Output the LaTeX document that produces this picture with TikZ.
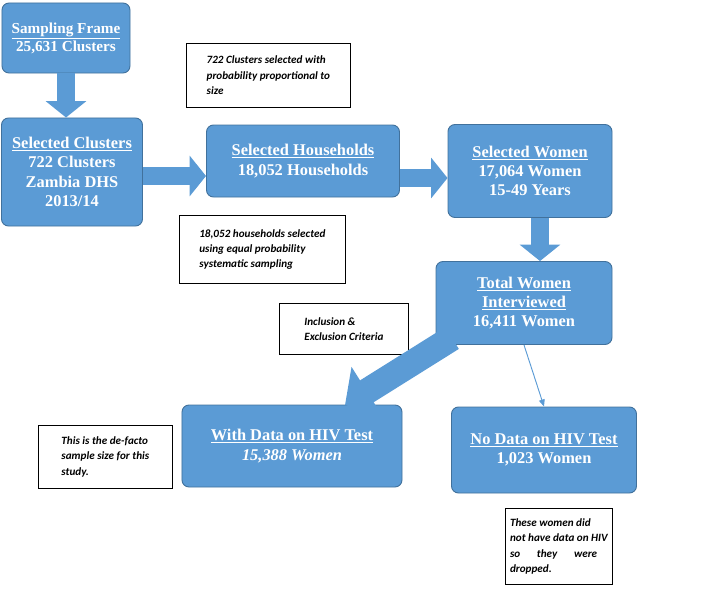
\documentclass[tikz,border=0pt]{standalone}
\usepackage{fontspec}
\setmainfont{Liberation Serif}
\newfontfamily\notefont{Carlito}
\usetikzlibrary{arrows.meta}
\definecolor{boxblue}{HTML}{5B9BD5}
\definecolor{boxline}{HTML}{41719C}
\tikzset{
  stagebox/.style={draw=boxline,fill=boxblue,rounded corners=6pt,line width=0.8pt,
    text=white,font=\fontsize{14}{16.5}\selectfont\bfseries,align=center,inner sep=2pt},
  notebox/.style={draw=black,fill=white,line width=0.6pt,align=left,anchor=north west,
    font=\notefont\fontsize{9.5}{13}\selectfont\bfseries\itshape,inner sep=5pt},
  blockarrow/.style={draw=boxblue,line width=16pt,-{Triangle[length=14pt,width=34pt]},color=boxblue},
}
\newcommand{\ul}[1]{\underline{#1}}
\begin{document}
\begin{tikzpicture}[x=0.03cm,y=-0.03cm]
	\useasboundingbox (0,0) rectangle (709,589);
	% stage boxes
	\node (sf) [stagebox,minimum width=3.84cm,minimum height=2.1cm,font=\fontsize{13}{15.5}\selectfont\bfseries] at (66,38) {\ul{Sampling Frame}\\25,631 Clusters};
	\node (sc) [stagebox,minimum width=4.23cm,minimum height=3.24cm] at (72,172) {\ul{Selected Clusters}\\722 Clusters\\Zambia DHS\\2013/14};
	\node (sh) [stagebox,minimum width=5.79cm,minimum height=2.16cm] at (303,161) {\ul{Selected Households}\\18,052 Households};
	\node (sw) [stagebox,minimum width=4.92cm,minimum height=2.79cm] at (530,171) {\ul{Selected Women}\\17,064 Women\\15-49 Years};
	\node (tw) [stagebox,minimum width=5.28cm,minimum height=2.49cm] at (524,303) {\ul{Total Women}\\\ul{Interviewed}\\16,411 Women};
	\node (wd) [stagebox,minimum width=6.6cm,minimum height=2.46cm] at (292,446) {\ul{With Data on HIV Test}\\\textit{15,388 Women}};
	\node (nd) [stagebox,minimum width=5.55cm,minimum height=2.58cm] at (544,450) {\ul{No Data on HIV Test}\\1,023 Women};
	% notes
	\node (n1) [notebox,minimum width=4.92cm,minimum height=1.92cm] at (186,43) {722 Clusters selected with\\probability proportional to\\size};
	\node (n2) [notebox,minimum width=4.98cm,minimum height=2.04cm] at (179,215) {18,052 households selected\\using equal probability\\systematic sampling};
	\node (n3) [notebox,minimum width=3.87cm,minimum height=1.53cm] at (279,303) {Inclusion \&\\Exclusion Criteria};
	\node (n4) [notebox,minimum width=4.02cm,minimum height=1.89cm] at (38,425) {This is the de-facto\\sample size for this\\study.};
	\node (n5) [notebox,inner sep=4pt,minimum height=2.28cm] at (505,508) {These women did\\not have data on HIV\\so\hspace{1.5em}they\hspace{1.5em}were\\dropped.};
	% connectors
	\coordinate (d1) at (452,338);
	\coordinate (d2) at (345,405);
	\draw[blockarrow] (sf.south) -- (sf.south |- sc.north);
	\draw[blockarrow] (sc.east |- 0,176) -- (sh.west |- 0,176);
	\draw[blockarrow] (sh.east |- 0,178) -- (sw.west |- 0,178);
	\draw[blockarrow] (sw.south -| 540,0) -- (tw.north -| 540,0);
	\draw[blockarrow,line width=22pt,-{Triangle[length=22pt,width=48pt]}] (d1) -- (d2);
	\draw[boxblue,line width=0.8pt,-{Triangle[length=6pt,width=5pt]}] (tw.south) -- (nd.north);
\end{tikzpicture}
\end{document}
